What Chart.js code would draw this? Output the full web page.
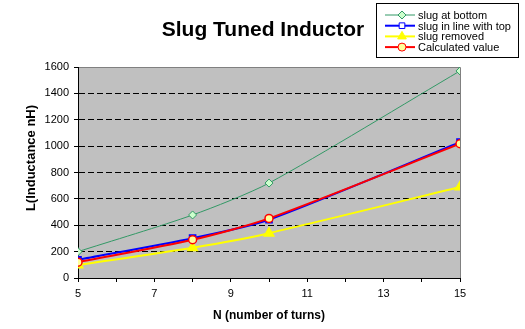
<!DOCTYPE html>
<html>
<head>
<meta charset="utf-8">
<script src="https://cdn.jsdelivr.net/npm/chart.js@4"></script>
<style>
  html, body { margin: 0; padding: 0; background: #fff; }
  canvas { display: block; }
</style>
</head>
<body>
<canvas id="inductorChart" width="525" height="329"></canvas>
<script>
// turns measured
const turns = [5, 8, 10, 15];
// inductance readings (nH)
const slugBottom = [200, 478, 720, 1570];
const slugInLine = [138, 302, 442, 1030];
const slugRemoved = [98, 230, 340, 690];
const calculated = [120, 290, 452, 1018];
// axis labels
const xTickLabels = [5, 7, 9, 11, 13, 15];
const yTickLabels = [0, 200, 400, 600, 800, 1000, 1200, 1400, 1600];
const chartTitle = "Slug Tuned Inductor";
const yTitle = "L(Inductance nH)";

const FONT = "'Liberation Sans', Arial, sans-serif";
const toPoints = (vals) => vals.map((v, i) => ({ x: turns[i], y: v }));

// gray plot area, gray top/right border, heading and y caption
const plotBackground = {
  id: "plotBackground",
  beforeDraw(chart) {
    const { ctx, chartArea: a } = chart;
    ctx.save();
    ctx.fillStyle = "#c0c0c0";
    ctx.fillRect(a.left, a.top, a.right - a.left, a.bottom - a.top);
    ctx.strokeStyle = "#808080";
    ctx.lineWidth = 1;
    ctx.beginPath();
    ctx.moveTo(a.left, a.top + 0.5);
    ctx.lineTo(a.right + 0.5, a.top + 0.5);
    ctx.lineTo(a.right + 0.5, a.bottom);
    ctx.stroke();

    ctx.fillStyle = "#000";
    ctx.font = "bold 21px " + FONT;
    ctx.textAlign = "center";
    ctx.textBaseline = "alphabetic";
    ctx.fillText(chartTitle, 263, 36);

    ctx.translate(31, 158);
    ctx.rotate(-Math.PI / 2);
    ctx.font = "bold 13px " + FONT;
    ctx.textBaseline = "middle";
    ctx.fillText(yTitle, 0, 0);
    ctx.restore();
  },
};

// boxed legend in the top right corner
const boxLegend = {
  id: "boxLegend",
  afterDraw(chart) {
    const ctx = chart.ctx;
    const x0 = 376, y0 = 3, w = 142, h = 54;
    ctx.save();
    ctx.fillStyle = "#fff";
    ctx.fillRect(x0, y0, w, h);
    ctx.strokeStyle = "#000";
    ctx.lineWidth = 1;
    ctx.strokeRect(x0 + 0.5, y0 + 0.5, w, h);
    ctx.font = "11px " + FONT;
    ctx.textBaseline = "middle";
    chart.data.datasets.forEach((ds, i) => {
      const y = y0 + 12 + i * 10.7;
      ctx.strokeStyle = ds.borderColor;
      ctx.lineWidth = ds.borderWidth;
      ctx.beginPath();
      ctx.moveTo(x0 + 9, y);
      ctx.lineTo(x0 + 39, y);
      ctx.stroke();
      ctx.fillStyle = ds.pointBackgroundColor;
      ctx.strokeStyle = ds.pointBorderColor;
      ctx.lineWidth = 1;
      Chart.helpers.drawPoint(ctx, { pointStyle: ds.pointStyle, radius: ds.pointRadius, borderWidth: 1 }, x0 + 26, y);
      ctx.fillStyle = "#000";
      ctx.fillText(ds.label, x0 + 42, y + 1);
    });
    ctx.restore();
  },
};

new Chart(document.getElementById("inductorChart"), {
  type: "line",
  data: {
    datasets: [
      {
        label: "slug at bottom",
        data: toPoints(slugBottom),
        borderColor: "#339966",
        borderWidth: 1,
        pointStyle: "rectRot",
        pointRadius: 4,
        pointBackgroundColor: "#ccffcc",
        pointBorderColor: "#339966",
        tension: 0.25,
        order: 4,
      },
      {
        label: "slug in line with top",
        data: toPoints(slugInLine),
        borderColor: "#0000ff",
        borderWidth: 2,
        pointStyle: "rect",
        pointRadius: 4,
        pointBackgroundColor: "#ffffff",
        pointBorderColor: "#0000ff",
        tension: 0.25,
        order: 3,
      },
      {
        label: "slug removed",
        data: toPoints(slugRemoved),
        borderColor: "#ffff00",
        borderWidth: 2,
        pointStyle: "triangle",
        pointRadius: 5,
        pointBackgroundColor: "#ffff00",
        pointBorderColor: "#ffff00",
        tension: 0.25,
        order: 2,
      },
      {
        label: "Calculated value",
        data: toPoints(calculated),
        borderColor: "#ff0000",
        borderWidth: 2,
        pointStyle: "circle",
        pointRadius: 4,
        pointBackgroundColor: "#ffff99",
        pointBorderColor: "#ff0000",
        pointBorderWidth: 1.5,
        tension: 0.25,
        order: 1,
      },
    ],
  },
  options: {
    responsive: false,
    animation: false,
    layout: { padding: { left: 0, right: 65, top: 67, bottom: 0 } },
    plugins: {
      legend: { display: false },
      tooltip: { enabled: false },
      title: { display: false },
    },
    scales: {
      x: {
        type: "linear",
        min: 5,
        max: 15,
        afterFit(scale) { scale.height = 51; },
        ticks: {
          stepSize: 1,
          autoSkip: false,
          maxRotation: 0,
          padding: 5,
          color: "#000",
          font: { family: FONT, size: 11 },
          callback: (v) => (xTickLabels.includes(v) ? v : ""),
        },
        grid: {
          drawOnChartArea: false,
          drawTicks: true,
          tickLength: 4,
          tickColor: "#000",
        },
        border: { color: "#000", width: 1 },
        title: {
          display: true,
          text: "N (number of turns)",
          color: "#000",
          font: { family: FONT, size: 12, weight: "bold" },
          padding: { top: 0, bottom: 6 },
        },
      },
      y: {
        min: 0,
        max: 1600,
        afterFit(scale) { scale.width = 78; },
        ticks: {
          stepSize: 200,
          padding: 5,
          color: "#000",
          font: { family: FONT, size: 11 },
          callback: (v) => (yTickLabels.includes(v) ? v : ""),
        },
        grid: {
          color: (c) => (c.tick && c.tick.value > 0 && c.tick.value < 1600 ? "#000" : "rgba(0,0,0,0)"),
          lineWidth: 1,
          tickLength: 4,
          tickColor: "#000",
        },
        border: { color: "#000", width: 1, dash: [6, 3] },
        title: { display: false },
      },
    },
  },
  plugins: [plotBackground, boxLegend],
});
</script>
</body>
</html>
